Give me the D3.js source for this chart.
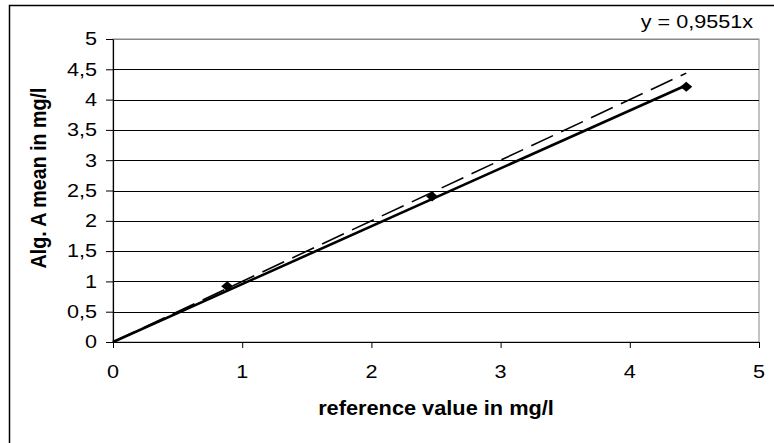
<!DOCTYPE html>
<html><head><meta charset="utf-8">
<script src="https://cdn.jsdelivr.net/npm/d3@7"></script>
<style>body{margin:0;background:#fff}svg{display:block}text{font-family:"Liberation Sans",Arial,sans-serif}</style>
</head><body>
<svg id="c" width="774" height="443"></svg>
<script>
const refValues = [0.884, 2.47, 4.437];
const meanValues = [0.92, 2.40, 4.21];
const slope = 0.9551;
const equationLabel = "y = 0,9551x";
const tickX = [0, 1, 2, 3, 4, 5];
const tickY = [0, 0.5, 1, 1.5, 2, 2.5, 3, 3.5, 4, 4.5, 5];
const xTitle = "reference value in mg/l";
const yTitle = "Alg. A mean in mg/l";

const SX = 1.35, SY = 1.1;   // stretch of tick / equation text in the reference
const TX = 1.36, TY = 1.23;  // stretch of axis titles
const svg = d3.select("#c");
const fmt = v => String(v).replace(".", ",");
const x = d3.scaleLinear().domain([0, 5]).range([113, 759]);
const y = d3.scaleLinear().domain([0, 5]).range([342, 39]);

// outer border
svg.append("rect").attr("x", 9.5).attr("y", 5.5).attr("width", 780).attr("height", 450)
  .attr("fill", "none").attr("stroke", "#000").attr("stroke-width", 1.5);

// plot area border (gray)
svg.append("rect").attr("x", x(0)).attr("y", y(5)).attr("width", x(5) - x(0)).attr("height", y(0) - y(5))
  .attr("fill", "none").attr("stroke", "#888").attr("stroke-width", 1);

// gridlines
svg.append("g").selectAll("line").data(tickY.filter(d => d > 0)).join("line")
  .attr("x1", x(0)).attr("x2", x(5)).attr("y1", d => Math.round(y(d)) + 0.5).attr("y2", d => Math.round(y(d)) + 0.5)
  .attr("stroke", d => d === 5 ? "#888" : "#000").attr("stroke-width", 1);

// axes (lines and ticks)
const gy = svg.append("g").attr("transform", `translate(${x(0)},0)`)
  .call(d3.axisLeft(y).tickValues(tickY).tickFormat("").tickSize(7).tickSizeOuter(0));
const gx = svg.append("g").attr("transform", `translate(0,${y(0)})`)
  .call(d3.axisBottom(x).tickValues(tickX).tickFormat("").tickSize(6).tickSizeOuter(0));
[gx, gy].forEach(g => {
  g.select(".domain").attr("stroke", "#000").attr("stroke-width", 1.2);
  g.selectAll(".tick line").attr("stroke", "#000");
});

// tick labels (stretched)
svg.append("g").selectAll("text").data(tickY).join("text")
  .attr("transform", d => `translate(97,${y(d)}) scale(${SX},${SY})`)
  .attr("dy", "0.36em").attr("text-anchor", "end").attr("font-size", 16).text(fmt);
svg.append("g").selectAll("text").data(tickX).join("text")
  .attr("transform", d => `translate(${x(d)},378) scale(${SX},${SY})`)
  .attr("text-anchor", "middle").attr("font-size", 16).text(fmt);

// dashed 1:1 line
const xMax = d3.max(refValues);
svg.append("line")
  .attr("x1", x(0)).attr("y1", y(0)).attr("x2", x(xMax)).attr("y2", y(xMax))
  .attr("stroke", "#000").attr("stroke-width", 1.6).attr("stroke-dasharray", "24,9");

// trend line
svg.append("line")
  .attr("x1", x(0)).attr("y1", y(0)).attr("x2", x(xMax)).attr("y2", y(slope * xMax))
  .attr("stroke", "#000").attr("stroke-width", 2.6);

// points (diamonds)
svg.append("g").selectAll("path").data(refValues.map((r, i) => [r, meanValues[i]])).join("path")
  .attr("d", "M0,-5L6,0L0,5L-6,0Z")
  .attr("transform", d => `translate(${x(d[0])},${y(d[1])})`).attr("fill", "#000");

// equation
svg.append("text").attr("transform", `translate(753,28) scale(${SX},${SY})`).attr("text-anchor", "end")
  .attr("font-size", 16).text(equationLabel);

// titles
svg.append("text").attr("transform", `translate(436,415) scale(${TX},${TY})`).attr("text-anchor", "middle")
  .attr("font-size", 16).attr("font-weight", "bold").text(xTitle);
svg.append("text").attr("transform", `translate(46,178) scale(${TX},${TY}) rotate(-90)`).attr("text-anchor", "middle")
  .attr("font-size", 16).attr("font-weight", "bold").text(yTitle);
</script>
</body></html>
